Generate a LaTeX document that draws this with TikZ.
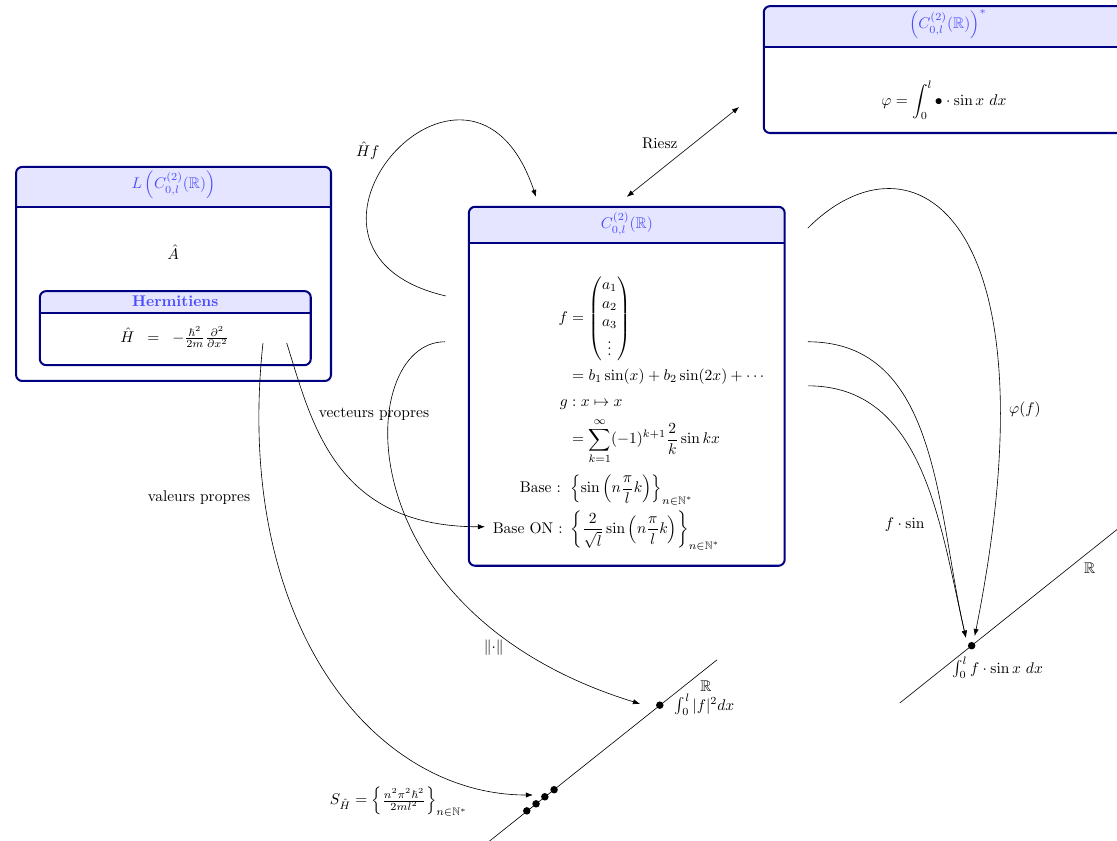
\documentclass[tikz,border=0pt]{standalone}
\usepackage{amsmath,amssymb}
\usepackage{tikz}
\usetikzlibrary{arrows.meta, positioning, calc}
\colorlet{boxline}{blue!50!black}
\colorlet{boxhead}{blue!10}
\colorlet{boxtitle}{blue!70}

\begin{document}
\begin{tikzpicture}[
    >={Latex[length=1.6mm,width=1.2mm]},
    spacebox/.style 2 args={draw=boxline, line width=1.3pt, rounded corners=4pt, fill=white, minimum width=#1, minimum height=#2, inner sep=0pt},
    head/.style={path picture={
      \fill[boxhead, sharp corners] (path picture bounding box.north west) rectangle ([yshift=-#1]path picture bounding box.north east);
      \draw[boxline, line width=1.3pt, sharp corners] ([yshift=-#1]path picture bounding box.north west) -- ([yshift=-#1]path picture bounding box.north east);}},
    headtext/.style={text=boxtitle},
    realpt/.style={circle, fill, inner sep=0pt, minimum size=0.17cm},
]
  \useasboundingbox (0,0) rectangle (25.36,19.09);

  % espaces
  \node[spacebox={7.15cm}{4.86cm}, head=0.91cm] (L) at (3.94,12.87) {};
  \node[headtext] (Lt) at ([yshift=-0.43cm]L.north) {$L\left(C_{0,l}^{(2)}(\mathbb{R})\right)$};
  \node (A) at (3.93,13.37) {$\hat{A}$};

  \node[spacebox={6.15cm}{1.68cm}, head=0.5cm] (H) at (3.98,11.64) {};
  \node[headtext] (Ht) at ([yshift=-0.25cm]H.north) {\textbf{Hermitiens}};
  \node (Hop) at (3.97,11.44) {$\hat{H} \;\; = \;\; -\frac{\hbar^2}{2m}\frac{\partial^2}{\partial x^2}$};

  \node[spacebox={7.17cm}{8.15cm}, head=0.82cm] (C) at (14.23,10.32) {};
  \node[headtext] (Ct) at ([yshift=-0.41cm]C.north) {$C_{0,l}^{(2)}(\mathbb{R})$};
  \node (Cf) at (14.27,9.71) {$\begin{aligned}
    f &= \begin{pmatrix} a_1\\ a_2\\ a_3\\ \vdots \end{pmatrix}\\
      &= b_1\sin(x)+b_2\sin(2x)+\cdots\\[2pt]
    g &: x\mapsto x\\
      &= \sum_{k=1}^{\infty}(-1)^{k+1}\frac{2}{k}\sin kx\\[3pt]
    \text{Base : } & \left\{\sin\left(n\frac{\pi}{l}k\right)\right\}_{n\in\mathbb{N}^*}\\
    \text{Base ON : } & \left\{\frac{2}{\sqrt{l}}\sin\left(n\frac{\pi}{l}k\right)\right\}_{n\in\mathbb{N}^*}
  \end{aligned}$};

  \node[spacebox={8.36cm}{2.88cm}, head=0.93cm] (D) at (21.52,17.51) {};
  \node[headtext] (Dt) at ([yshift=-0.43cm]D.north) {$\left(C_{0,l}^{(2)}(\mathbb{R})\right)^*$};
  \node (phi) at (21.43,16.82) {$\displaystyle\varphi = \int_0^l \bullet\cdot\sin x\ dx$};

  % droites reelles
  \coordinate (rxa) at (20.43,3.13);
  \coordinate (rxb) at (26.49,7.97);
  \draw (rxa) -- (rxb);
  \node[realpt] (dI) at (22.06,4.43) {};
  \node (Rx) at (24.74,6.20) {$\mathbb{R}$};
  \node (Ix) at (22.65,3.93) {$\int_0^l f\cdot\sin x\ dx$};

  \coordinate (rya) at (10.87,-0.2);
  \coordinate (ryb) at (16.28,4.11);
  \draw (rya) -- (ryb);
  \node[realpt] (dN) at (14.98,3.08) {};
  \node (Ry) at (16.03,3.50) {$\mathbb{R}$};
  \node[anchor=west] (Iy) at (15.2,3.09) {$\int_0^l |f|^2dx$};
  \node[realpt] (s1) at (11.96,0.68) {};
  \node[realpt] (s2) at (12.17,0.84) {};
  \node[realpt] (s3) at (12.37,1.00) {};
  \node[realpt] (s4) at (12.58,1.16) {};
  \node (S) at (9.05,0.89) {$S_{\hat{H}} = \left\{\frac{n^2\pi^2\hbar^2}{2ml^2}\right\}_{n\in\mathbb{N}^*}$};

  % fleches
  \coordinate (hfA) at (10.12,12.37);
  \coordinate (hfB) at (12.17,14.62);
  \coordinate (rzA) at (14.23,14.62);
  \coordinate (rzB) at (16.78,16.66);
  \coordinate (nA) at (10.10,11.33);
  \coordinate (nB) at (14.53,3.11);
  \coordinate (phA) at (18.34,13.91);
  \coordinate (phB) at (22.13,4.65);
  \coordinate (fA) at (18.34,11.33);
  \coordinate (sA) at (18.34,10.33);
  \coordinate (fsB) at (21.93,4.61);
  \coordinate (vpA) at (6.51,11.30);
  \coordinate (vpB) at (11.01,7.13);
  \coordinate (spA) at (5.97,11.30);
  \coordinate (spB) at (12.10,1.04);

  \draw[->] (hfA) .. controls +(-4.45,1.04) and +(-1.50,4.47) .. (hfB);
  \draw[<->] (rzA) -- (rzB);
  \draw[->] (nA) .. controls +(-2.04,0) and +(-6.81,2.10) .. (nB);
  \draw[->] (phA) .. controls +(2.38,2.38) and +(1.91,9.53) .. (phB);
  \draw[->] (fA) to[out=0, in=103] (fsB);
  \draw[->] (sA) to[out=0, in=103] (fsB);
  \draw[->] (vpA) .. controls +(0.57,-1.82) and +(-3.41,0) .. (vpB);
  \draw[->] (spA) .. controls +(-0.68,-6.36) and +(-3.63,0) .. (spB);

  \node (hfl) at (8.35,15.68) {$\hat{H}f$};
  \node (rzl) at (14.98,15.84) {Riesz};
  \node (nl) at (11.21,4.38) {$\lVert\cdot\rVert$};
  \node (phl) at (23.27,9.78) {$\varphi(f)$};
  \node (fsl) at (20.54,7.17) {$f\cdot\sin$};
  \node (vpl) at (8.49,9.69) {vecteurs propres};
  \node (spl) at (4.52,7.79) {valeurs propres};
\end{tikzpicture}
\end{document}
